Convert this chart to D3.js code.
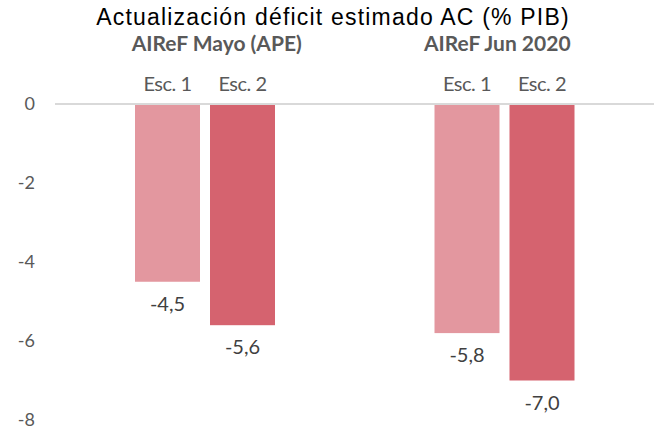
<!DOCTYPE html>
<html>
<head>
<meta charset="utf-8">
<script src="https://cdn.jsdelivr.net/npm/d3@7"></script>
<style>
    body { margin: 0; background: #fff; }
    svg { display: block; }
</style>
</head>
<body>
<div id="chart"></div>
<script>
// chart data
const title = "Actualización déficit estimado AC (% PIB)";
const groups = ["AIReF Mayo (APE)", "AIReF Jun 2020"];
const scenarios = ["Esc. 1", "Esc. 2"];
const values = [
    [-4.5, -5.6],
    [-5.8, -7.0]
];
const yTicks = [0, -2, -4, -6, -8];
const colors = ["#e3979f", "#d5636f"];

const width = 654;
const height = 430;
const margin = {top: 104, right: 0, bottom: 10, left: 55};

// spanish style numbers, plain hyphen for minus
const locale = d3.formatLocale({decimal: ",", thousands: ".", grouping: [3], currency: ["", "€"], minus: "-"});
const fmtTick = locale.format("d");
const fmtVal = locale.format(".1f");

const svg = d3.select("#chart").append("svg")
    .attr("width", width)
    .attr("height", height);

// scales
const xGroup = d3.scaleBand()
    .domain(groups)
    .range([margin.left, width - margin.right]);

const xSub = d3.scaleBand()
    .domain(scenarios)
    .range([80, 220])
    .paddingInner(10 / 75);

const y = d3.scaleLinear()
    .domain([-8, 0])
    .range([420, margin.top]);

// y axis labels only
svg.append("g")
    .attr("transform", `translate(${margin.left - 20},0)`)
    .call(d3.axisLeft(y).tickValues(yTicks).tickSize(0).tickPadding(0).tickFormat(fmtTick))
    .call(g => g.select(".domain").remove())
    .call(g => g.selectAll("text")
        .attr("fill", "#595959")
        .attr("font-family", "Lato, sans-serif")
        .attr("font-size", 18));

// bars
const groupG = svg.append("g")
    .selectAll("g")
    .data(groups)
    .join("g")
    .attr("transform", d => `translate(${xGroup(d)},0)`);

groupG.selectAll("rect")
    .data((d, i) => values[i].map((v, j) => ({v, s: scenarios[j], c: colors[j]})))
    .join("rect")
    .attr("x", d => xSub(d.s))
    .attr("y", y(0))
    .attr("width", xSub.bandwidth())
    .attr("height", d => y(d.v) - y(0))
    .attr("fill", d => d.c);

// value labels
groupG.selectAll("text.val")
    .data((d, i) => values[i].map((v, j) => ({v, s: scenarios[j]})))
    .join("text")
    .attr("class", "val")
    .attr("x", d => xSub(d.s) + xSub.bandwidth() / 2)
    .attr("y", d => y(d.v) + 29)
    .attr("text-anchor", "middle")
    .attr("fill", "#404040")
    .attr("font-family", "Lato, sans-serif")
    .attr("font-size", 20)
    .text(d => fmtVal(d.v));

// scenario labels above bars
groupG.selectAll("text.esc")
    .data(scenarios)
    .join("text")
    .attr("class", "esc")
    .attr("x", d => xSub(d) + xSub.bandwidth() / 2)
    .attr("y", 91)
    .attr("text-anchor", "middle")
    .attr("fill", "#595959")
    .attr("font-family", "Lato, sans-serif")
    .attr("font-size", 20)
    .attr("letter-spacing", -0.5)
    .text(d => d);

// group titles (text boxes sit a bit off the group centre)
const subOffset = [12, -7];
groupG.append("text")
    .attr("x", (d, i) => xGroup.bandwidth() / 2 + subOffset[i])
    .attr("y", 51)
    .attr("text-anchor", "middle")
    .attr("fill", "#595959")
    .attr("font-family", "Lato, sans-serif")
    .attr("font-weight", "bold")
    .attr("font-size", 21)
    .text(d => d);

// zero line
svg.append("line")
    .attr("x1", margin.left)
    .attr("x2", width - margin.right)
    .attr("y1", y(0))
    .attr("y2", y(0))
    .attr("stroke", "#d9d9d9")
    .attr("stroke-width", 2);

// chart title
svg.append("text")
    .attr("x", width / 2 + 6)
    .attr("y", 25)
    .attr("text-anchor", "middle")
    .attr("fill", "#000")
    .attr("font-family", "'Liberation Sans', Arial, sans-serif")
    .attr("font-size", 23)
    .attr("letter-spacing", 1.2)
    .text(title);
</script>
</body>
</html>
